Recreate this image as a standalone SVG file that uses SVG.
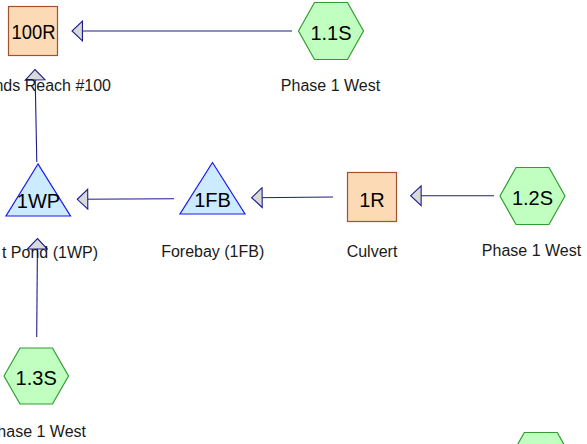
<svg xmlns="http://www.w3.org/2000/svg" width="587" height="444" viewBox="0 0 587 444">
<defs>
<style>
.bg{fill:#ffffff}
.reach{fill:#FDDAB6;stroke:#A0522D;stroke-width:1.2}
.sub{fill:#C0FFC0;stroke:#2E9E2E;stroke-width:1.2}
.pond{fill:#CDEBFF;stroke:#1A1AF0;stroke-width:1.2}
.nl{font-family:"Liberation Sans",Arial,sans-serif;font-size:20px;fill:#000;text-anchor:middle}
.lb{font-family:"Liberation Sans",Arial,sans-serif;font-size:16px;fill:#1a1a1a;text-anchor:middle}
.lbe{font-family:"Liberation Sans",Arial,sans-serif;font-size:16px;fill:#1a1a1a;text-anchor:end}
.cn{stroke:#1C1C8C;stroke-width:1.1;fill:none;marker-end:url(#ah)}
</style>
<marker id="ah" markerUnits="userSpaceOnUse" markerWidth="14" markerHeight="22" viewBox="-1 -10 12 20" refX="9.5" refY="0" orient="auto">
<path d="M0,-9 L9.5,0 L0,9 Z" fill="#D9D9D9" stroke="#1C1C8C" stroke-width="1"/>
</marker>
</defs>
<rect class="bg" x="0" y="0" width="587" height="444"/>
<g id="connectors">
<line class="cn" x1="292" y1="31" x2="72" y2="31"/>
<line class="cn" x1="494" y1="195.7" x2="410.7" y2="195.7"/>
<line class="cn" x1="333" y1="197" x2="251.7" y2="197.7"/>
<line class="cn" x1="174" y1="198.7" x2="77.3" y2="199.3"/>
<line class="cn" x1="36.8" y1="162" x2="35" y2="69.5"/>
<line class="cn" x1="36.7" y1="337" x2="37.5" y2="238.5"/>
</g>
<g id="node-100R">
<rect class="reach" x="8.5" y="6.5" width="49" height="49"/>
<text class="nl" x="33.5" y="39" textLength="44" lengthAdjust="spacingAndGlyphs">100R</text>
<text class="lbe" x="111" y="91">nds Reach #100</text>
</g>
<g id="node-1.1S">
<polygon class="sub" points="298.5,31 314.5,2.5 347.5,2.5 363.5,31 347.5,59.5 314.5,59.5"/>
<text class="nl" x="331" y="39.5">1.1S</text>
<text class="lb" x="330.5" y="91">Phase 1 West</text>
</g>
<g id="node-1WP">
<polygon class="pond" points="38,164 6,216 70.5,216"/>
<text class="nl" x="38.5" y="207.7">1WP</text>
<text class="lbe" x="98" y="258">t Pond (1WP)</text>
</g>
<g id="node-1FB">
<polygon class="pond" points="212.5,162.5 180,214 245,214"/>
<text class="nl" x="212.5" y="206.7">1FB</text>
<text class="lb" x="212.7" y="257">Forebay (1FB)</text>
</g>
<g id="node-1R">
<rect class="reach" x="347.5" y="172.5" width="49" height="49"/>
<text class="nl" x="372" y="206.7">1R</text>
<text class="lb" x="372" y="256.5">Culvert</text>
</g>
<g id="node-1.2S">
<polygon class="sub" points="500,196 516,167.5 549,167.5 565,196 549,224.5 516,224.5"/>
<text class="nl" x="532.5" y="204.5">1.2S</text>
<text class="lb" x="531.5" y="256">Phase 1 West</text>
</g>
<g id="node-1.3S">
<polygon class="sub" points="4,376 20,348 52.5,348 68.5,376 52.5,404 20,404"/>
<text class="nl" x="36.2" y="384.5">1.3S</text>
<text class="lbe" x="86" y="437">hase 1 West</text>
</g>
<g id="node-partial">
<polygon class="sub" points="508.3,461 524.3,432.5 557.3,432.5 573.3,461 557.3,489.5 524.3,489.5"/>
</g>
</svg>
